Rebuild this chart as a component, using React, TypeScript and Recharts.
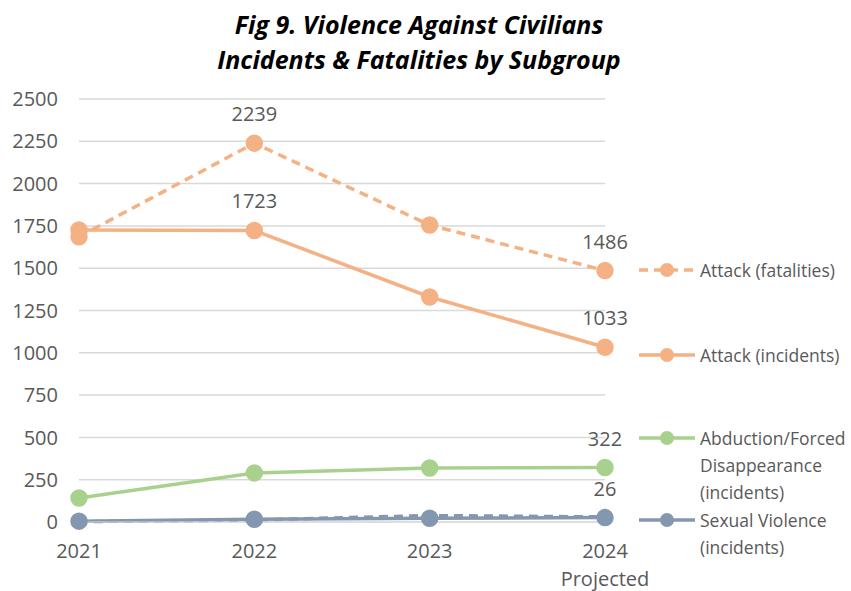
import React from "react";
import {
  LineChart,
  Line,
  XAxis,
  YAxis,
  CartesianGrid,
  LabelList,
} from "recharts";

const years = ["2021", "2022", "2023", "2024"];
const attackFatalities = [1686, 2239, 1755, 1486];
const attackIncidents = [1726, 1723, 1330, 1033];
const abductionIncidents = [142, 290, 319, 322];
const sexualIncidents = [5, 16, 22, 26];
const sexualFatalities = [2, 12, 38, 30];

// which points carry a value label
const fatalitiesLabelled = [false, true, false, true];
const incidentsLabelled = [false, true, false, true];
const abductionLabelled = [false, false, false, true];
const sexualLabelled = [false, false, false, true];

const yTicks = [0, 250, 500, 750, 1000, 1250, 1500, 1750, 2000, 2250, 2500];

const ORANGE = "#F4B183";
const GREEN = "#A9D18E";
const BLUE = "#8497B0";
const TEXT = "#595959";
const FONT = "'Open Sans', sans-serif";
const NUM_SIZE = 20;

const data = years.map((year, i) => ({
  year,
  attackFatalities: attackFatalities[i],
  attackIncidents: attackIncidents[i],
  abductionIncidents: abductionIncidents[i],
  sexualIncidents: sexualIncidents[i],
  sexualFatalities: sexualFatalities[i],
}));

const legendItems = [
  { label: ["Attack (fatalities)"], color: ORANGE, dashed: true, top: 270 },
  { label: ["Attack (incidents)"], color: ORANGE, dashed: false, top: 355 },
  {
    label: ["Abduction/Forced", "Disappearance", "(incidents)"],
    color: GREEN,
    dashed: false,
    top: 438,
  },
  {
    label: ["Sexual Violence", "(incidents)"],
    color: BLUE,
    dashed: false,
    top: 520,
  },
];

const makeLabel = (flags: boolean[]) => (props: any) => {
  const { x, y, value, index } = props;
  if (!flags[index]) return null;
  return (
    <text
      x={x}
      y={y - 22}
      textAnchor="middle"
      fill={TEXT}
      fontSize={NUM_SIZE}
      fontFamily={FONT}
    >
      {value}
    </text>
  );
};

const XTick = (props: any) => {
  const { x, y, payload } = props;
  return (
    <g>
      <text
        x={x}
        y={y + 28}
        textAnchor="middle"
        fill={TEXT}
        fontSize={NUM_SIZE}
        fontFamily={FONT}
      >
        {payload.value}
      </text>
      {payload.value === "2024" && (
        <text
          x={x}
          y={y + 56}
          textAnchor="middle"
          fill={TEXT}
          fontSize={NUM_SIZE}
          fontFamily={FONT}
        >
          Projected
        </text>
      )}
    </g>
  );
};

const LegendIcon = ({ color, dashed }: { color: string; dashed: boolean }) => (
  <svg width={60} height={20} style={{ display: "block" }}>
    <line
      x1={2}
      y1={10}
      x2={58}
      y2={10}
      stroke={color}
      strokeWidth={3.5}
      strokeDasharray={dashed ? "9 6" : undefined}
    />
    <circle cx={30} cy={10} r={7} fill={color} />
  </svg>
);

export default function App() {
  return (
    <div
      style={{
        position: "absolute",
        left: 0,
        top: 0,
        width: 851,
        height: 591,
        background: "#fff",
        fontFamily: FONT,
      }}
    >
      <div
        style={{
          position: "absolute",
          left: 0,
          top: 7,
          width: 838,
          textAlign: "center",
          fontSize: 25,
          fontWeight: 700,
          fontStyle: "italic",
          lineHeight: "35px",
          color: "#000",
        }}
      >
        Fig 9. Violence Against Civilians
        <br />
        Incidents &amp; Fatalities by Subgroup
      </div>

      <LineChart
        width={851}
        height={591}
        data={data}
        margin={{ top: 99, right: 246, left: 0, bottom: 9 }}
      >
        <CartesianGrid vertical={false} stroke="#d9d9d9" strokeWidth={1.5} />
        <XAxis
          dataKey="year"
          axisLine={{ stroke: "#d9d9d9" }}
          tickLine={false}
          height={60}
          tick={<XTick />}
          interval={0}
        />
        <YAxis
          width={79}
          domain={[0, 2500]}
          ticks={yTicks}
          axisLine={false}
          tickLine={false}
          tickMargin={15}
          tick={{ fill: TEXT, fontSize: NUM_SIZE, fontFamily: FONT }}
        />

        <Line
          dataKey="sexualFatalities"
          stroke={BLUE}
          strokeWidth={3.5}
          strokeDasharray="9 6"
          dot={false}
          legendType="none"
          isAnimationActive={false}
        />
        <Line
          dataKey="sexualIncidents"
          stroke={BLUE}
          strokeWidth={3.5}
          dot={{ r: 7, fill: BLUE, stroke: BLUE }}
          isAnimationActive={false}
        >
          <LabelList dataKey="sexualIncidents" content={makeLabel(sexualLabelled)} />
        </Line>
        <Line
          dataKey="abductionIncidents"
          stroke={GREEN}
          strokeWidth={3.5}
          dot={{ r: 7, fill: GREEN, stroke: GREEN }}
          isAnimationActive={false}
        >
          <LabelList dataKey="abductionIncidents" content={makeLabel(abductionLabelled)} />
        </Line>
        <Line
          dataKey="attackIncidents"
          stroke={ORANGE}
          strokeWidth={3.5}
          dot={{ r: 7, fill: ORANGE, stroke: ORANGE }}
          isAnimationActive={false}
        >
          <LabelList dataKey="attackIncidents" content={makeLabel(incidentsLabelled)} />
        </Line>
        <Line
          dataKey="attackFatalities"
          stroke={ORANGE}
          strokeWidth={3.5}
          strokeDasharray="9 6"
          dot={{ r: 7, fill: ORANGE, stroke: ORANGE, strokeDasharray: "" }}
          isAnimationActive={false}
        >
          <LabelList dataKey="attackFatalities" content={makeLabel(fatalitiesLabelled)} />
        </Line>
      </LineChart>

      {legendItems.map((item) => (
        <div
          key={item.label[0]}
          style={{
            position: "absolute",
            left: 637,
            top: item.top - 13,
            display: "flex",
            alignItems: "flex-start",
            color: TEXT,
            fontSize: 17.5,
            lineHeight: "27px",
          }}
        >
          <div style={{ paddingTop: 3 }}>
            <LegendIcon color={item.color} dashed={item.dashed} />
          </div>
          <div style={{ marginLeft: 3 }}>
            {item.label.map((l) => (
              <div key={l}>{l}</div>
            ))}
          </div>
        </div>
      ))}
    </div>
  );
}
